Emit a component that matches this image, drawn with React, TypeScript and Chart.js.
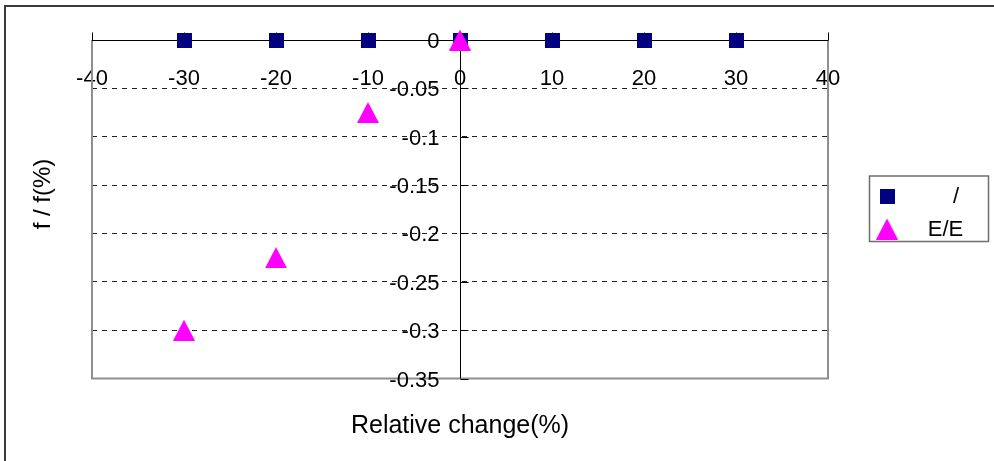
import { useEffect, useRef } from "react";
import { Chart, registerables } from "chart.js";

Chart.register(...registerables);

// Relative change of each parameter (%) and the resulting frequency shift Δf/f (%)
const densityChange = [-30, -20, -10, 0, 10, 20, 30];
const densityShift = [0, 0, 0, 0, 0, 0, 0];
const modulusChange = [0, -10, -20, -30];
const modulusShift = [0, -0.075, -0.225, -0.3];

const seriesNames = ["/", "E/E"];
const seriesColors = ["#000080", "#FF00FF"];

const xMin = -40;
const xMax = 40;
const xStep = 10;
const yMin = -0.35;
const yMax = 0;
const yStep = 0.05;

const xTitle = "Relative change(%)";
const yTitle = "f / f(%)";

const FONT = "'Liberation Sans', Arial, sans-serif";

function makeSquare(size: number, color: string) {
  const c = document.createElement("canvas");
  c.width = size;
  c.height = size;
  const g = c.getContext("2d")!;
  g.fillStyle = color;
  g.fillRect(0, 0, size, size);
  return c;
}

function makeTriangle(w: number, h: number, color: string) {
  const c = document.createElement("canvas");
  c.width = w;
  c.height = h;
  const g = c.getContext("2d")!;
  g.fillStyle = color;
  g.beginPath();
  g.moveTo(w / 2, 0);
  g.lineTo(w, h);
  g.lineTo(0, h);
  g.closePath();
  g.fill();
  return c;
}

function formatY(v: number) {
  return String(Number(v.toFixed(2)));
}

export default function App() {
  const canvasRef = useRef<HTMLCanvasElement | null>(null);

  useEffect(() => {
    const canvas = canvasRef.current;
    if (!canvas) return;

    const square = makeSquare(15, seriesColors[0]);
    const triangle = makeTriangle(22, 21, seriesColors[1]);
    const markers = [square, triangle];

    // Axis lines through the origin, tick marks, value labels, plot frame, titles, legend and outer border
    const decorations = {
      id: "decorations",
      beforeDatasetsDraw(chart: any) {
        const { ctx, chartArea: a, scales } = chart;
        const xs = scales.x;
        const ys = scales.y;
        const ox = Math.round(xs.getPixelForValue(0)) + 0.5;
        const oy = Math.round(ys.getPixelForValue(0)) + 0.5;
        ctx.save();

        // grey frame on left, right and bottom
        ctx.strokeStyle = "#8f8f8f";
        ctx.lineWidth = 2;
        ctx.beginPath();
        ctx.moveTo(a.left, a.top);
        ctx.lineTo(a.left, a.bottom);
        ctx.lineTo(a.right, a.bottom);
        ctx.lineTo(a.right, a.top);
        ctx.stroke();

        // axes
        ctx.strokeStyle = "#000000";
        ctx.lineWidth = 1;
        ctx.beginPath();
        ctx.moveTo(a.left, oy);
        ctx.lineTo(a.right, oy);
        ctx.moveTo(ox, a.top);
        ctx.lineTo(ox, a.bottom);
        ctx.stroke();

        // tick marks
        ctx.beginPath();
        xs.ticks.forEach((t: any) => {
          const px = Math.round(xs.getPixelForValue(t.value)) + 0.5;
          ctx.moveTo(px, oy);
          ctx.lineTo(px, oy - 8);
        });
        ys.ticks.forEach((t: any) => {
          const py = Math.round(ys.getPixelForValue(t.value)) + 0.5;
          ctx.moveTo(ox, py);
          ctx.lineTo(ox + 8, py);
        });
        ctx.stroke();

        // value labels of the vertical axis, left of the axis line
        ctx.fillStyle = "#000000";
        ctx.font = `22px ${FONT}`;
        ctx.textAlign = "right";
        ctx.textBaseline = "middle";
        ys.ticks.forEach((t: any) => {
          const py = ys.getPixelForValue(t.value);
          ctx.fillText(formatY(t.value), ox - 21, py + 2);
        });
        ctx.restore();
      },
      afterDraw(chart: any) {
        const { ctx } = chart;
        ctx.save();

        // axis titles
        ctx.fillStyle = "#000000";
        ctx.font = `25px ${FONT}`;
        ctx.textAlign = "center";
        ctx.textBaseline = "alphabetic";
        ctx.fillText(xTitle, 460, 433);

        ctx.save();
        ctx.translate(43, 194);
        ctx.rotate(-Math.PI / 2);
        ctx.font = `24px ${FONT}`;
        ctx.textBaseline = "middle";
        ctx.fillText(yTitle, 0, 0);
        ctx.restore();

        // legend
        ctx.strokeStyle = "#6e6e6e";
        ctx.lineWidth = 1.5;
        ctx.strokeRect(869.5, 176, 119, 65.5);
        const rows = [196, 229];
        const textX = [956, 945.5];
        ctx.font = `22px ${FONT}`;
        ctx.textBaseline = "middle";
        seriesNames.forEach((name, i) => {
          const m = markers[i];
          ctx.drawImage(m, 887 - m.width / 2, rows[i] - m.height / 2);
          ctx.fillText(name, textX[i], rows[i] + 1);
        });

        // outer border of the chart
        ctx.strokeStyle = "#3a3a3a";
        ctx.lineWidth = 2;
        ctx.beginPath();
        ctx.moveTo(5, 470);
        ctx.lineTo(5, 6);
        ctx.lineTo(1000, 6);
        ctx.stroke();
        ctx.restore();
      },
    };

    const chart = new Chart(canvas, {
      type: "scatter",
      data: {
        datasets: [
          {
            label: seriesNames[0],
            data: densityChange.map((x, i) => ({ x, y: densityShift[i] })),
            pointStyle: square as any,
            backgroundColor: seriesColors[0],
            borderColor: seriesColors[0],
            order: 2,
            clip: false as any,
          },
          {
            label: seriesNames[1],
            data: modulusChange.map((x, i) => ({ x, y: modulusShift[i] })),
            pointStyle: triangle as any,
            backgroundColor: seriesColors[1],
            borderColor: seriesColors[1],
            order: 1,
            clip: false as any,
          },
        ],
      },
      options: {
        responsive: false,
        animation: false,
        layout: { padding: { left: 92, right: 166, top: 40, bottom: 82.5 } },
        plugins: {
          legend: { display: false },
          tooltip: { enabled: false },
          title: { display: false },
        },
        scales: {
          x: {
            type: "linear",
            position: { y: 0 } as any,
            min: xMin,
            max: xMax,
            border: { display: false },
            grid: { display: false, drawTicks: false },
            ticks: {
              stepSize: xStep,
              padding: 26,
              color: "#000000",
              font: { family: FONT, size: 22 },
            },
          },
          y: {
            type: "linear",
            position: { x: 0 } as any,
            min: yMin,
            max: yMax,
            border: { display: false, dash: [5, 5] },
            grid: {
              drawTicks: false,
              color: (c: any) => {
                const v = c.tick ? c.tick.value : 0;
                return Math.abs(v) < 1e-9 || Math.abs(v - yMin) < 1e-9 ? "rgba(0,0,0,0)" : "#222222";
              },
              lineWidth: 1,
            },
            ticks: {
              stepSize: yStep,
              display: false,
            },
          },
        },
      },
      plugins: [decorations],
    });

    return () => chart.destroy();
  }, []);

  return (
    <div style={{ position: "fixed", left: 0, top: 0, width: 994, height: 461, background: "#ffffff" }}>
      <canvas ref={canvasRef} width={994} height={461} style={{ width: 994, height: 461 }} />
    </div>
  );
}
